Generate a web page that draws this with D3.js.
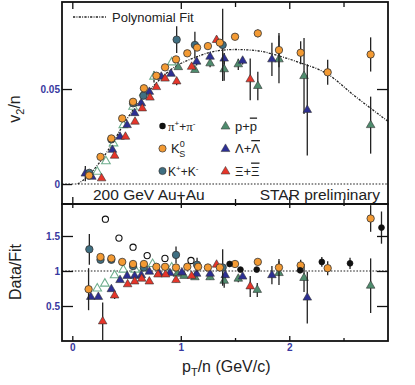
<!DOCTYPE html>
<html>
<head>
<meta charset="utf-8">
<script src="https://cdn.jsdelivr.net/npm/d3@7"></script>
<style>
  body { margin: 0; background: #fff; }
  svg { display: block; font-family: "Liberation Sans", Arial, sans-serif; }
</style>
</head>
<body>
<div id="chart"></div>
<script>
// Page and frame constants
const WIDTH = 415;
const HEIGHT = 385;
const FRAME = { left: 62, right: 388, top: 2, split: 204, bottom: 341 };

// Axis ticks
const xMajorTicks = [0, 1, 2];
const xMinorTicks = [1.5, 2.5];
const topYTicks = [0, 0.05];
const topYLabels = ["0", "0.05"];
const bottomYTicks = [0.5, 1, 1.5];
const bottomYLabels = ["0.5", "1", "1.5"];

// Polynomial fit
const fitX = [0.05, 0.15, 0.26, 0.36, 0.46, 0.56, 0.66, 0.78, 0.86, 0.96, 1.06, 1.16, 1.25, 1.36, 1.5, 1.7, 1.9, 2.1, 2.35, 2.6, 2.91];
const fitV = [0, 0.0045, 0.012, 0.0205, 0.0302, 0.039, 0.046, 0.0535, 0.058, 0.0622, 0.065, 0.0672, 0.069, 0.0703, 0.0708, 0.0702, 0.0675, 0.0638, 0.058, 0.0465, 0.033];

// v2/n per species: [pT/n, v2/n, error]
const kS0Top = [[0.155,0.0045,0],[0.26,0.0143,0],[0.36,0.024,0],[0.46,0.0345,0],[0.56,0.0433,0],[0.66,0.0504,0],[0.775,0.057,0],[0.855,0.0614,0],[0.956,0.0656,0],[1.06,0.0688,0],[1.15,0.0718,0],[1.25,0.0726,0],[1.36,0.0744,0],[1.50,0.0775,0.0015],[1.71,0.0793,0.002],[1.905,0.0705,0.009],[2.105,0.0691,0.006],[2.354,0.0588,0.0066],[2.75,0.0682,0.009]];
const kChTop = [[0.157,0.0059,0.001],[0.36,0.0235,0],[0.56,0.0425,0],[0.655,0.0465,0],[0.962,0.076,0.007],[1.13,0.0732,0.007],[1.386,0.0732,0.019]];
const lambdaTop = [[0.12,0.0055,0.004],[0.18,0.0038,0],[0.37,0.018,0],[0.44,0.0249,0],[0.505,0.031,0],[0.575,0.0373,0],[0.636,0.0425,0],[0.71,0.0485,0],[0.82,0.0565,0],[0.91,0.058,0],[1.146,0.0644,0.002],[1.27,0.067,0],[1.40,0.066,0.003],[1.57,0.0649,0.002],[1.84,0.0656,0.0087],[2.166,0.039,0.024]];
const xiTop = [[0.27,0.003,0],[0.39,0.0149,0],[0.49,0.0249,0],[0.578,0.0328,0],[0.645,0.0398,0],[0.716,0.0455,0],[0.775,0.051,0],[0.855,0.0555,0],[0.962,0.054,0.002],[1.10,0.0617,0],[1.33,0.0758,0.002],[1.64,0.0551,0.011]];
const protonOpenTop = [[0.23,0.0065,0],[0.31,0.012,0],[0.38,0.0214,0],[0.47,0.031,0],[0.56,0.0407,0],[0.66,0.048,0],[0.753,0.0565,0.003],[0.916,0.064,0]];
const protonTop = [[0.977,0.0615,0],[1.13,0.06,0],[1.27,0.0635,0.002],[1.40,0.0604,0.006],[1.53,0.063,0.003],[1.71,0.0516,0.0075],[1.905,0.0656,0.0126],[2.136,0.0568,0.02],[2.75,0.031,0.015]];

// Data/Fit per species: [pT/n, ratio, error]
const pionOpenRatio = [[0.305,1.74,0],[0.43,1.47,0],[0.56,1.34,0],[0.69,1.22,0],[0.854,1.18,0],[1.094,1.15,0]];
const pionRatio = [[1.45,1.10,0],[1.55,1.02,0],[1.70,1.02,0],[2.10,1.01,0],[2.30,1.13,0.07],[2.56,1.11,0.08],[2.85,1.62,0.23]];
const kS0Ratio = [[0.15,0.74,0.3],[0.26,1.2,0],[0.36,1.18,0],[0.46,1.13,0],[0.56,1.10,0],[0.66,1.10,0],[0.775,1.06,0],[0.855,1.06,0],[0.956,1.05,0],[1.06,1.06,0],[1.16,1.06,0],[1.25,1.05,0],[1.36,1.05,0],[1.50,1.10,0.03],[1.71,1.13,0.03],[1.905,1.05,0.12],[2.105,1.08,0.08],[2.354,1.04,0.1],[2.75,1.75,0.19]];
const kChRatio = [[0.157,1.31,0.22],[0.26,1.16,0],[0.36,1.16,0],[0.56,1.07,0],[0.66,1.05,0],[0.956,1.23,0.12],[1.15,1.09,0.1],[1.386,1.05,0.26]];
const lambdaRatio = [[0.17,0.63,0],[0.24,0.63,0],[0.36,0.74,0],[0.44,0.87,0],[0.505,0.93,0],[0.575,0.93,0],[0.636,0.94,0],[0.71,0.99,0],[0.80,0.97,0],[0.90,0.97,0],[1.01,0.98,0],[1.146,0.96,0.03],[1.27,0.96,0],[1.41,0.94,0.04],[1.57,0.92,0.03],[1.84,0.94,0.13],[2.166,0.62,0.37]];
const xiRatio = [[0.28,0.28,0.27],[0.39,0.65,0.05],[0.51,0.81,0],[0.575,0.85,0],[0.64,0.89,0],[0.71,0.85,0],[0.79,0.95,0],[0.86,0.95,0],[0.956,0.87,0.03],[1.10,0.93,0],[1.33,1.09,0.03],[1.64,0.78,0.15]];
const protonOpenRatio = [[0.23,0.75,0],[0.30,0.82,0],[0.39,0.94,0],[0.47,1.02,0],[0.58,1.02,0],[0.66,1.04,0],[0.74,1.10,0],[0.916,1.05,0]];
const protonRatio = [[0.968,0.96,0],[1.03,0.93,0],[1.13,0.91,0],[1.27,0.91,0.03],[1.40,0.86,0.1],[1.53,0.89,0.05],[1.705,0.73,0.1],[1.905,0.97,0.17],[2.136,0.9,0.2],[2.75,0.79,0.39]];

// Colours
const ORANGE = "#f39a33";
const TEAL = "#3f6f82";
const GREEN = "#4f8c6e";
const LIGHT_GREEN = "#6fae8e";
const BLUE = "#2d2f93";
const RED = "#e6352a";
const TICK_BLUE = "#3838a0";

const svg = d3.select("#chart").append("svg")
  .attr("width", WIDTH)
  .attr("height", HEIGHT);

const x = d3.scaleLinear().domain([-0.095, 2.91]).range([FRAME.left, FRAME.right]);
const yTop = d3.scaleLinear().domain([-0.0105, 0.0958]).range([FRAME.split, FRAME.top]);
const yBot = d3.scaleLinear().domain([0, 1.957]).range([FRAME.bottom, FRAME.split]);

const defs = svg.append("defs");
defs.append("clipPath").attr("id", "clip-top").append("rect")
  .attr("x", FRAME.left).attr("y", FRAME.top)
  .attr("width", FRAME.right - FRAME.left).attr("height", FRAME.split - FRAME.top);
defs.append("clipPath").attr("id", "clip-bot").append("rect")
  .attr("x", FRAME.left).attr("y", FRAME.split)
  .attr("width", FRAME.right - FRAME.left).attr("height", FRAME.bottom - FRAME.split);

const topG = svg.append("g").attr("clip-path", "url(#clip-top)");
const botG = svg.append("g").attr("clip-path", "url(#clip-bot)");

// reference lines
topG.append("line")
  .attr("x1", FRAME.left).attr("x2", FRAME.right)
  .attr("y1", yTop(0)).attr("y2", yTop(0))
  .attr("stroke", "#222").attr("stroke-width", 1.1).attr("stroke-dasharray", "1.6,1.6");
botG.append("line")
  .attr("x1", FRAME.left).attr("x2", FRAME.right)
  .attr("y1", yBot(1)).attr("y2", yBot(1))
  .attr("stroke", "#222").attr("stroke-width", 1.1).attr("stroke-dasharray", "1.6,1.6");

// fit curve
const FIT_DASH = "2.2,1.3,0.9,1.3";
const fitLine = d3.line()
  .x((d) => x(d[0]))
  .y((d) => yTop(d[1]))
  .curve(d3.curveMonotoneX);
topG.append("path")
  .datum(fitX.map((d, i) => [d, fitV[i]]))
  .attr("d", fitLine)
  .attr("fill", "none")
  .attr("stroke", "#222")
  .attr("stroke-width", 1.3)
  .attr("stroke-dasharray", FIT_DASH);

function drawErrors(g, data, y) {
  g.append("g").selectAll("line")
    .data(data.filter((d) => d[2] > 0))
    .enter()
    .append("line")
    .attr("x1", (d) => x(d[0])).attr("x2", (d) => x(d[0]))
    .attr("y1", (d) => y(d[1] - d[2])).attr("y2", (d) => y(d[1] + d[2]))
    .attr("stroke", "#222").attr("stroke-width", 1.3);
}

function drawCircles(g, data, y, fill, stroke, r) {
  drawErrors(g, data, y);
  g.append("g").selectAll("circle")
    .data(data)
    .enter()
    .append("circle")
    .attr("cx", (d) => x(d[0]))
    .attr("cy", (d) => y(d[1]))
    .attr("r", r)
    .attr("fill", fill)
    .attr("stroke", stroke)
    .attr("stroke-width", fill == "#fff" ? 1.1 : 0.8);
}

const triangle = d3.symbol().type(d3.symbolTriangle).size(32);

function drawTriangles(g, data, y, fill, stroke) {
  drawErrors(g, data, y);
  g.append("g").selectAll("path")
    .data(data)
    .enter()
    .append("path")
    .attr("d", triangle)
    .attr("transform", (d) => "translate(" + x(d[0]) + "," + y(d[1]) + ")")
    .attr("fill", fill)
    .attr("stroke", stroke)
    .attr("stroke-width", fill == "#fff" ? 1.1 : 0.6);
}

// top panel markers
drawTriangles(topG, protonOpenTop, yTop, "#fff", LIGHT_GREEN);
drawTriangles(topG, protonTop, yTop, GREEN, "#333");
drawTriangles(topG, lambdaTop, yTop, BLUE, "#333");
drawTriangles(topG, xiTop, yTop, RED, "#333");
drawCircles(topG, kChTop, yTop, TEAL, "#333", 3.7);
drawCircles(topG, kS0Top, yTop, ORANGE, "#333", 3.7);

// bottom panel markers
drawCircles(botG, pionOpenRatio, yBot, "#fff", "#111", 3.1);
drawTriangles(botG, protonOpenRatio, yBot, "#fff", LIGHT_GREEN);
drawTriangles(botG, protonRatio, yBot, GREEN, "#333");
drawTriangles(botG, lambdaRatio, yBot, BLUE, "#333");
drawTriangles(botG, xiRatio, yBot, RED, "#333");
drawCircles(botG, kChRatio, yBot, TEAL, "#333", 3.7);
drawCircles(botG, kS0Ratio, yBot, ORANGE, "#333", 3.7);
drawCircles(botG, pionRatio, yBot, "#111", "#111", 2.9);

// frames
[[FRAME.top, FRAME.split], [FRAME.split, FRAME.bottom]].forEach((p) => {
  svg.append("rect")
    .attr("x", FRAME.left).attr("y", p[0])
    .attr("width", FRAME.right - FRAME.left).attr("height", p[1] - p[0])
    .attr("fill", "none").attr("stroke", "#111").attr("stroke-width", 1.8);
});

// axes with inward ticks
function addAxis(axis, transform, labelled) {
  const g = svg.append("g").attr("transform", transform).call(axis);
  g.select(".domain").remove();
  g.selectAll(".tick line").attr("stroke", "#111").attr("stroke-width", 1.3);
  g.selectAll(".tick text")
    .attr("fill", TICK_BLUE)
    .style("font-family", "'Liberation Sans', Arial, sans-serif")
    .style("font-size", "10px")
    .style("font-weight", "bold");
  if (!labelled) g.selectAll(".tick text").remove();
  return g;
}

addAxis(d3.axisTop(x).tickValues(xMajorTicks).tickSize(-7), "translate(0," + FRAME.top + ")", false);
addAxis(d3.axisTop(x).tickValues(xMinorTicks).tickSize(-5), "translate(0," + FRAME.top + ")", false);
addAxis(d3.axisBottom(x).tickValues(xMajorTicks).tickSize(-7), "translate(0," + FRAME.split + ")", false);
addAxis(d3.axisBottom(x).tickValues(xMinorTicks).tickSize(-5), "translate(0," + FRAME.split + ")", false);
addAxis(d3.axisTop(x).tickValues(xMajorTicks).tickSize(-4), "translate(0," + FRAME.split + ")", false);
addAxis(d3.axisTop(x).tickValues(xMinorTicks).tickSize(-2), "translate(0," + FRAME.split + ")", false);
addAxis(d3.axisBottom(x).tickValues(xMajorTicks).tickSize(-5).tickPadding(3).tickFormat(d3.format("d")), "translate(0," + FRAME.bottom + ")", true);
addAxis(d3.axisBottom(x).tickValues(xMinorTicks).tickSize(-3), "translate(0," + FRAME.bottom + ")", false);

addAxis(d3.axisLeft(yTop).tickValues(topYTicks).tickSize(-10).tickPadding(2).tickFormat((d, i) => topYLabels[i]), "translate(" + FRAME.left + ",0)", true);
addAxis(d3.axisRight(yTop).tickValues([0.05]).tickSize(-11), "translate(" + FRAME.right + ",0)", false);
addAxis(d3.axisLeft(yBot).tickValues(bottomYTicks).tickSize(-11).tickPadding(2).tickFormat((d, i) => bottomYLabels[i]), "translate(" + FRAME.left + ",0)", true);
addAxis(d3.axisRight(yBot).tickValues(bottomYTicks).tickSize(-11), "translate(" + FRAME.right + ",0)", false);

// axis titles
const vTitle = svg.append("text")
  .attr("transform", "translate(20,109) rotate(-90)")
  .attr("text-anchor", "middle")
  .style("font-size", "16px")
  .attr("fill", "#222");
vTitle.append("tspan").text("v");
vTitle.append("tspan").attr("dy", 4).style("font-size", "11px").text("2");
vTitle.append("tspan").attr("dy", -4).text("/n");

svg.append("text")
  .attr("transform", "translate(21,272) rotate(-90)")
  .attr("text-anchor", "middle")
  .style("font-size", "16px")
  .attr("fill", "#222")
  .text("Data/Fit");

const xTitle = svg.append("text")
  .attr("x", 182).attr("y", 372)
  .style("font-size", "16px")
  .attr("fill", "#222");
xTitle.append("tspan").text("p");
xTitle.append("tspan").attr("dy", 4).style("font-size", "11px").text("T");
xTitle.append("tspan").attr("dy", -4).text("/n (GeV/c)");

// fit legend
svg.append("line")
  .attr("x1", 73).attr("x2", 107).attr("y1", 17).attr("y2", 17)
  .attr("stroke", "#222").attr("stroke-width", 1.3).attr("stroke-dasharray", FIT_DASH);
svg.append("text")
  .attr("x", 112).attr("y", 21.5)
  .style("font-size", "13px")
  .attr("fill", "#222")
  .text("Polynomial Fit");

// species legend
const legend = svg.append("g").style("font-size", "12px").attr("fill", "#222");
const rows = [126, 148.5, 171];

legend.append("circle").attr("cx", 162.5).attr("cy", rows[0]).attr("r", 3.2).attr("fill", "#111");
legend.append("circle").attr("cx", 162.5).attr("cy", rows[1]).attr("r", 3.6).attr("fill", ORANGE).attr("stroke", "#333").attr("stroke-width", 0.7);
legend.append("circle").attr("cx", 162.5).attr("cy", rows[2]).attr("r", 3.6).attr("fill", TEAL).attr("stroke", "#333").attr("stroke-width", 0.7);
const legendTri = d3.symbol().type(d3.symbolTriangle).size(34);
[[rows[0], GREEN], [rows[1], BLUE], [rows[2], RED]].forEach((r) => {
  legend.append("path")
    .attr("d", legendTri)
    .attr("transform", "translate(225.5," + (r[0] + 0.5) + ")")
    .attr("fill", r[1]).attr("stroke", "#333").attr("stroke-width", 0.5);
});

const pi = legend.append("text").attr("x", 168).attr("y", rows[0] + 4.5);
pi.append("tspan").style("font-family", "'Liberation Serif', serif").style("font-size", "13px").text("π");
pi.append("tspan").attr("dy", -5).style("font-size", "8px").text("+");
pi.append("tspan").attr("dy", 5).text("+");
pi.append("tspan").style("font-family", "'Liberation Serif', serif").style("font-size", "13px").text("π");
pi.append("tspan").attr("dy", -5).style("font-size", "8px").text("-");

const ks = legend.append("text").attr("x", 171).attr("y", rows[1] + 4);
ks.append("tspan").style("font-size", "13px").text("K");
ks.append("tspan").attr("dy", -6).style("font-size", "9px").text("0");
ks.append("tspan").attr("dx", -5.5).attr("dy", 10).style("font-size", "9px").text("S");

const kc = legend.append("text").attr("x", 168).attr("y", rows[2] + 4.5);
kc.append("tspan").text("K");
kc.append("tspan").attr("dy", -5).style("font-size", "8px").text("+");
kc.append("tspan").attr("dy", 5).text("+K");
kc.append("tspan").attr("dy", -5).style("font-size", "8px").text("-");

[["p", rows[0]], ["Λ", rows[1]], ["Ξ", rows[2]]].forEach((r) => {
  const t = legend.append("text").attr("x", 235).attr("y", r[1] + 4.5).style("font-size", "13px");
  t.append("tspan").text(r[0] + "+");
  t.append("tspan").style("text-decoration", "overline").text(r[0]);
});

// labels along the separator
svg.append("text")
  .attr("x", 93).attr("y", 199.5)
  .style("font-size", "15.5px")
  .attr("fill", "#222")
  .text("200 GeV Au+Au");
svg.append("text")
  .attr("x", 380).attr("y", 199.5)
  .attr("text-anchor", "end")
  .style("font-size", "15.5px")
  .attr("fill", "#222")
  .text("STAR preliminary");
</script>
</body>
</html>
